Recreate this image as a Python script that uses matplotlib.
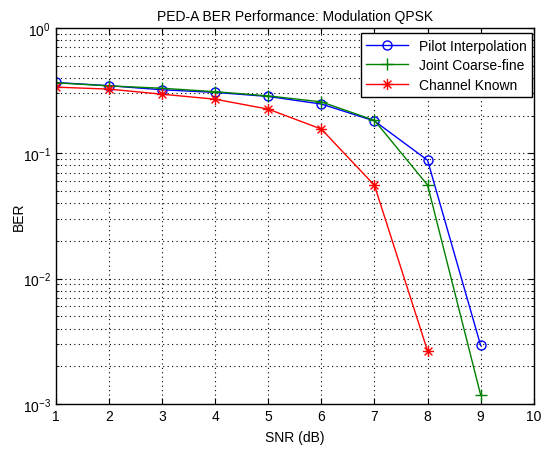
import numpy as np
import matplotlib
matplotlib.use('Agg')
import matplotlib.pyplot as plt
from matplotlib.ticker import LogLocator, NullFormatter
from matplotlib.path import Path

plt.rcParams['font.family'] = ['Liberation Sans', 'DejaVu Sans']

snr = [1, 2, 3, 4, 5, 6, 7, 8, 9]
ber_pilot = [0.367, 0.346, 0.321, 0.306, 0.284, 0.247, 0.181, 0.088, 0.00293]
ber_joint = [0.365, 0.345, 0.330, 0.310, 0.287, 0.257, 0.183, 0.0558, 0.00118]
snr_known = [1, 2, 3, 4, 5, 6, 7, 8]
ber_known = [0.337, 0.325, 0.296, 0.270, 0.225, 0.156, 0.0555, 0.00265]

# matlab style asterisk: plus + cross
d = 0.7071
asterisk = Path([(0, -1), (0, 1), (-1, 0), (1, 0), (-d, -d), (d, d), (-d, d), (d, -d)],
                [Path.MOVETO, Path.LINETO] * 4)

fig = plt.figure(figsize=(5.48, 4.52), dpi=100)
ax = fig.add_axes([0.102, 0.104, 0.872, 0.832])

ax.semilogy(snr, ber_pilot, '-o', color='#0000ff', lw=1, ms=6.5,
            mfc='none', mew=1, label='Pilot Interpolation')
ax.semilogy(snr, ber_joint, '-+', color='#008000', lw=1, ms=9,
            mew=1, label='Joint Coarse-fine')
ax.semilogy(snr_known, ber_known, '-', marker=asterisk, color='#ff0000', lw=1,
            ms=8, mew=1, label='Channel Known')

ax.set_xlim(1, 10)
ax.set_ylim(1e-3, 1)
ax.set_xticks(range(1, 11))
ax.yaxis.set_major_locator(LogLocator(base=10, numticks=10))
ax.yaxis.set_minor_locator(LogLocator(base=10, subs=np.arange(2, 10), numticks=10))
ax.yaxis.set_minor_formatter(NullFormatter())

dots = (0, (1, 3))
ax.grid(True, which='major', linestyle=dots, color='black', lw=0.8)
ax.grid(True, which='minor', axis='y', linestyle=dots, color='black', lw=0.8)
ax.tick_params(which='both', direction='in', top=True, right=True, labelsize=10)
ax.tick_params(which='major', length=4)
ax.tick_params(which='minor', length=2.5)
for s in ax.spines.values():
    s.set_linewidth(1)

ax.set_title('PED-A BER Performance: Modulation QPSK', fontsize=10)
ax.set_xlabel('SNR (dB)', fontsize=10, labelpad=5)
ax.set_ylabel('BER', fontsize=10, labelpad=-2)

leg = ax.legend(loc='upper right', bbox_to_anchor=(0.997, 0.986), fontsize=10,
                fancybox=False, framealpha=1, edgecolor='black', borderaxespad=0,
                handlelength=3.0, labelspacing=0.4)
leg.get_frame().set_linewidth(1)

fig.savefig('out.png', dpi=100)
